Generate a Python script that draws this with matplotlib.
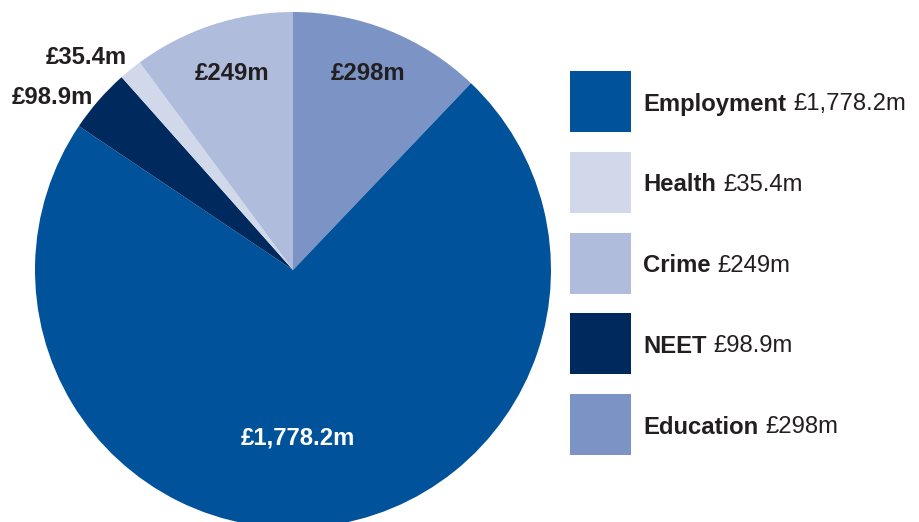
import matplotlib
matplotlib.use('Agg')
import matplotlib.pyplot as plt
from matplotlib.patches import Rectangle

plt.rcParams['font.family'] = ['Liberation Sans', 'DejaVu Sans']

# Spend by category (£m), clockwise from 12 o'clock
categories = ['Education', 'Employment', 'NEET', 'Health', 'Crime']
values = [298, 1778.2, 98.9, 35.4, 249]
value_labels = ['£298m', '£1,778.2m', '£98.9m', '£35.4m', '£249m']
colors = ['#7b93c5', '#00529b', '#002a5e', '#d0d8ea', '#b0bcdc']

# legend order, top to bottom
legend_order = ['Employment', 'Health', 'Crime', 'NEET', 'Education']

W, H = 919, 522
fig = plt.figure(figsize=(W / 100, H / 100), dpi=100)
ax = fig.add_axes([0, 0, 1, 1])

cx, cy, r = 293, H - 270, 258
wedges, _ = ax.pie(values, colors=colors, startangle=90, counterclock=False,
                   center=(cx, cy), radius=r, frame=True,
                   wedgeprops=dict(linewidth=0))
ax.set_xlim(0, W)
ax.set_ylim(0, H)
ax.set_aspect('auto')
ax.axis('off')

FS = 17.2

# slice labels (pixel positions from top-left)
label_pos = {'Education': (368, 74, '#231f20'),
             'Crime': (232, 74, '#231f20'),
             'Health': (86, 58, '#231f20'),
             'NEET': (52, 98, '#231f20'),
             'Employment': (298, 438, 'white')}
for cat, lab in zip(categories, value_labels):
    x, y, c = label_pos[cat]
    ax.text(x, H - y, lab, ha='center', va='center', fontsize=FS,
            fontweight='bold', color=c)

# legend: swatch + bold name + regular amount
fig.canvas.draw()
renderer = fig.canvas.get_renderer()
for i, cat in enumerate(legend_order):
    k = categories.index(cat)
    top = 71 + i * 80.8
    ax.add_patch(Rectangle((570, H - top - 61), 61, 61, color=colors[k], lw=0))
    ty = H - (top + 33)
    t = ax.text(643, ty, cat, ha='left', va='center', fontsize=FS,
                fontweight='bold', color='#231f20')
    bb = t.get_window_extent(renderer)
    ax.text(bb.x1 + 7, ty, value_labels[k], ha='left', va='center',
            fontsize=FS, color='#231f20')

fig.savefig('out.png', dpi=100)
